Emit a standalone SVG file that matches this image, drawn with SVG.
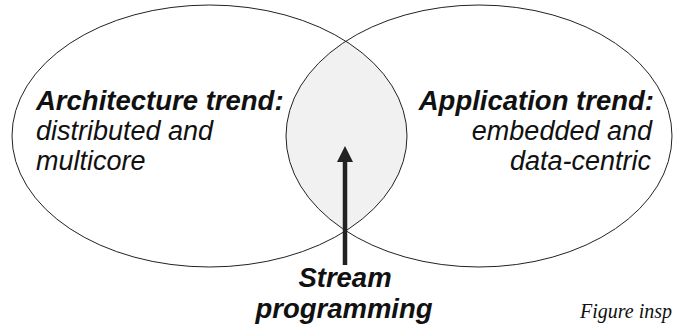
<svg xmlns="http://www.w3.org/2000/svg" width="673" height="331" viewBox="0 0 673 331">
<style>
.ell{fill:none;stroke:#222;stroke-width:1}
.b{font-family:"Liberation Sans",Arial,sans-serif;font-size:27.5px;font-weight:bold;font-style:italic;fill:#111}
.r{font-family:"Liberation Sans",Arial,sans-serif;font-size:27px;font-style:italic;fill:#111}
.cap{font-family:"Liberation Serif","Times New Roman",serif;font-size:20px;font-style:italic;fill:#111}
</style>
<defs>
<clipPath id="clipL"><ellipse cx="209.5" cy="136" rx="197.5" ry="131"/></clipPath>
<marker id="ah" viewBox="0 0 16 16" refX="0" refY="8" markerWidth="16" markerHeight="16" markerUnits="userSpaceOnUse" orient="auto"><path d="M0,0 L16,8 L0,16 Z" fill="#222"/></marker>
</defs>
<g id="intersection">
<ellipse cx="479" cy="136" rx="193" ry="131" fill="#f1f1f1" clip-path="url(#clipL)"/>
</g>
<g id="architecture">
<ellipse class="ell" cx="209.5" cy="136" rx="197.5" ry="131"/>
<text class="b" x="36" y="110">Architecture trend:</text>
<text class="r" x="36" y="140">distributed and</text>
<text class="r" x="36" y="170">multicore</text>
</g>
<g id="application">
<ellipse class="ell" cx="479" cy="136" rx="193" ry="131"/>
<text class="b" x="654" y="110" text-anchor="end">Application trend:</text>
<text class="r" x="652" y="140" text-anchor="end">embedded and</text>
<text class="r" x="651" y="170" text-anchor="end">data-centric</text>
</g>
<g id="connectors">
<line x1="345" y1="265" x2="345" y2="162" stroke="#222" stroke-width="4.5" marker-end="url(#ah)"/>
</g>
<g id="stream">
<text class="b" x="345" y="287" text-anchor="middle">Stream</text>
<text class="b" x="344" y="318" text-anchor="middle">programming</text>
</g>
<g id="caption">
<text class="cap" x="580" y="318">Figure insp</text>
</g>
</svg>
